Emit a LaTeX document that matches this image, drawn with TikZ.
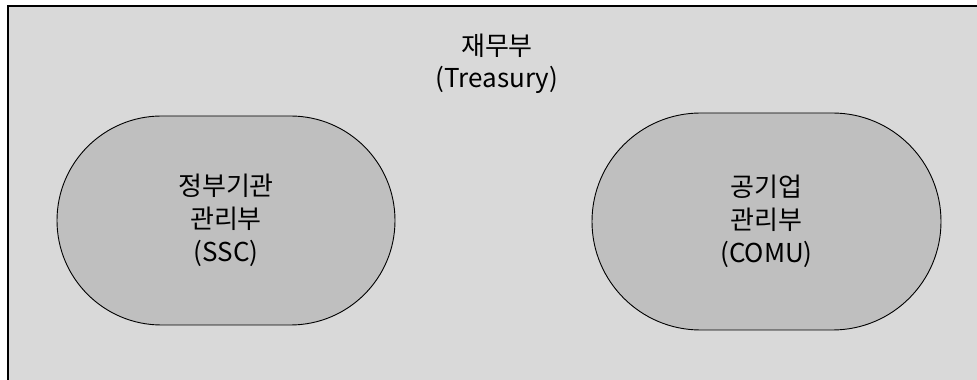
\documentclass[tikz,border=0pt]{standalone}
\usepackage{fontspec}
\setmainfont{Noto Sans CJK KR}
\usetikzlibrary{shapes.misc}
\definecolor{framegray}{RGB}{217,217,217}
\definecolor{ovalgray}{RGB}{191,191,191}
\begin{document}
\begin{tikzpicture}[x=1pt, y=1pt,
  office/.style={draw, line width=0.9pt, fill=ovalgray, rounded rectangle, align=center,
    font=\fontsize{26}{33}\selectfont, inner sep=0pt}]
\useasboundingbox (0,0) rectangle (977,380);
\clip (0,0) rectangle (977,380);
\fill[white] (0,0) rectangle (977,380);
\draw[fill=framegray, line width=2pt] (8,374) rectangle (1000,-20);
\node[align=center, font=\fontsize{26}{32}\selectfont] (treasury) at (497,316) {재무부\\(Treasury)};
\node[office, minimum width=338, minimum height=209] (ssc) at (226,159.5) {정부기관\\관리부\\(SSC)};
\node[office, minimum width=349, minimum height=217] (comu) at (766.5,158.5) {공기업\\관리부\\(COMU)};
\end{tikzpicture}
\end{document}
